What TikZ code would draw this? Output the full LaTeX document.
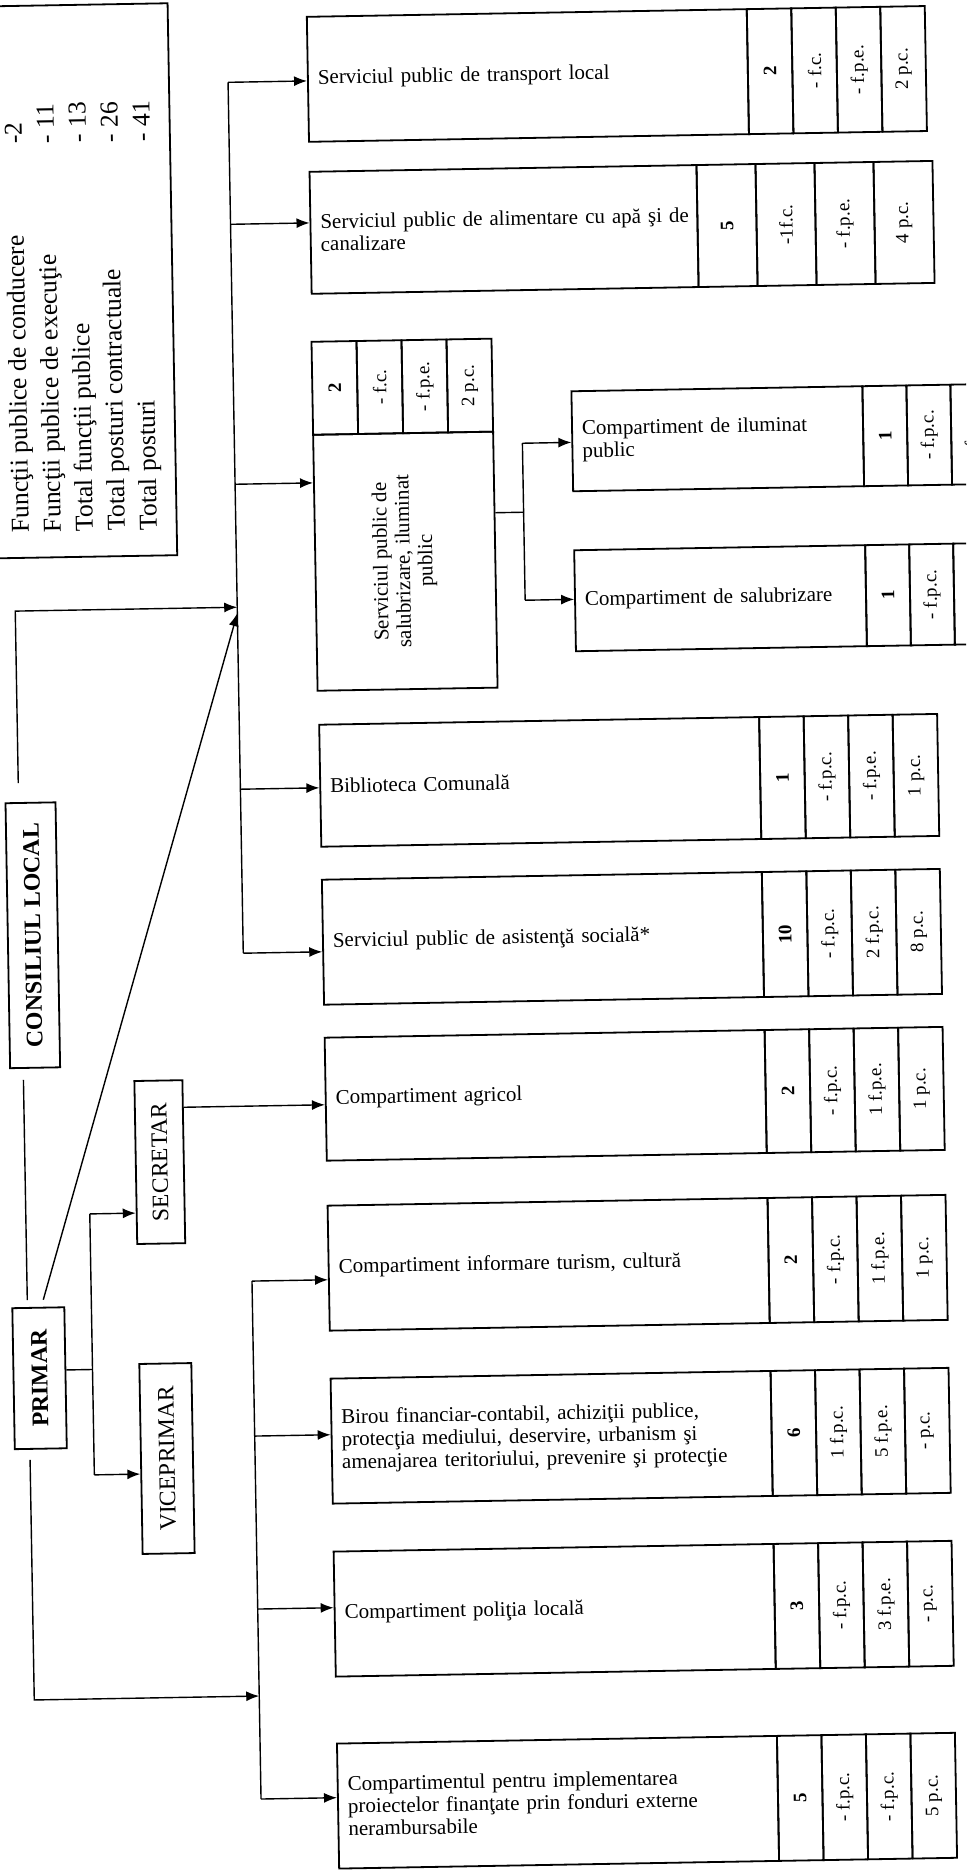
\documentclass[tikz,border=0pt]{standalone}
\usepackage{fontspec}
\setmainfont{Liberation Serif}
\usepackage{graphicx}
\usetikzlibrary{arrows.meta,calc}
\newcommand\bxfont{\fontsize{21}{22.5}\selectfont}
\newcommand\cellfont{\fontsize{19}{21}\selectfont}
\newcommand\legfont{\fontsize{25.7}{30}\selectfont}
\newcommand\hdfont{\fontsize{23.5}{26}\selectfont}
\newcommand\hdbfont{\fontsize{23.8}{26}\selectfont\bfseries}
\newcommand\rt[1]{\rotatebox{90}{#1}}
% name, ytop, height, text, c1..c4
\newcommand\stdrow[8]{%
  \node[mainbox, minimum width=440pt, text width=420pt, minimum height=#3pt] (#1) at (322,#2) {#4};
  \node[cellbox, minimum height=#3pt] (#1c1) at (762,#2) {\rt{\bfseries #5}};
  \node[cellbox, minimum height=#3pt] (#1c2) at (806.5,#2) {\rt{#6}};
  \node[cellbox, minimum height=#3pt] (#1c3) at (851,#2) {\rt{#7}};
  \node[cellbox, minimum height=#3pt] (#1c4) at (895.5,#2) {\rt{#8}};
}
\begin{document}
\begin{tikzpicture}[x=1pt,y=-1pt,
  ln/.style={line width=1.4pt, draw=black},
  arr/.style={ln, -{Latex[length=13pt,width=10pt]}},
  mainbox/.style={draw, line width=1.8pt, anchor=north west, align=left, inner xsep=10pt, inner ysep=0pt, font=\bxfont},
  cellbox/.style={draw, line width=1.8pt, anchor=north west, inner sep=0pt, minimum width=44.5pt, font=\cellfont},
  headbox/.style={draw, line width=1.8pt, anchor=north west, inner sep=0pt},
  legtext/.style={rotate=90, anchor=base west, font=\legfont, inner sep=0pt}
]
\useasboundingbox (0,0) rectangle (966,1873);
\fill[white] (0,0) rectangle (966,1873);
\clip (0,0) rectangle (966,1873);
\begin{scope}[rotate around={1:(483,936)}, transform shape]

% ---------- legend ----------
\node[headbox, minimum width=203pt, minimum height=552pt] (legend) at (-20,-3) {};
\foreach \t/\n [count=\i from 0] in {Funcţii publice de conducere/-2, Funcţii publice de execuţie/- 11, Total funcţii publice/- 13, Total posturi contractuale/- 26, Total posturi/- 41} {
  \node[legtext] (leg\i) at (36+32*\i, 525) {\t};
  \node[legtext] (legn\i) at (36+32*\i, 136) {\n};
}

% ---------- left column ----------
\node[headbox, minimum width=50pt, minimum height=265pt] (consiliu) at (7,794) {\rt{\hdbfont CONSILIUL LOCAL}};
\node[headbox, minimum width=52pt, minimum height=141pt] (primar) at (5,1299) {\rt{\hdbfont PRIMAR}};
\node[headbox, minimum width=48pt, minimum height=163pt] (secretar) at (131,1074) {\rt{\hdfont SECRETAR}};
\node[headbox, minimum width=52pt, minimum height=190pt] (viceprimar) at (131,1357) {\rt{\hdfont VICEPRIMAR}};

% ---------- right column ----------
\stdrow{transport}{13}{125}{Serviciul public de transport local}{2}{- f.c.}{- f.p.e.}{2 p.c.}

\node[mainbox, minimum width=387pt, text width=367pt, minimum height=122pt] (alim) at (322,168) {\mbox{Serviciul public de alimentare cu apă şi de}\\canalizare};
\node[cellbox, minimum width=59pt, minimum height=122pt] (alimc1) at (709,168) {\rt{\bfseries 5}};
\node[cellbox, minimum width=59pt, minimum height=122pt] (alimc2) at (768,168) {\rt{-1f.c.}};
\node[cellbox, minimum width=59pt, minimum height=122pt] (alimc3) at (827,168) {\rt{- f.p.e.}};
\node[cellbox, minimum width=59pt, minimum height=122pt] (alimc4) at (886,168) {\rt{4 p.c.}};

\node[headbox, minimum width=180pt, minimum height=256pt] (salub) at (321,431) {\rt{\bxfont\begin{tabular}{@{}c@{}}Serviciul public de\\ salubrizare, iluminat\\ public\end{tabular}}};
\node[cellbox, minimum width=45pt, minimum height=93pt] (salubc1) at (321,338) {\rt{\bfseries 2}};
\node[cellbox, minimum width=45pt, minimum height=93pt] (salubc2) at (366,338) {\rt{- f.c.}};
\node[cellbox, minimum width=45pt, minimum height=93pt] (salubc3) at (411,338) {\rt{- f.p.e.}};
\node[cellbox, minimum width=45pt, minimum height=93pt] (salubc4) at (456,338) {\rt{2 p.c.}};

\node[mainbox, minimum width=291pt, text width=271pt, minimum height=100pt] (ilum) at (580,392) {Compartiment de iluminat\\public};
\node[cellbox, minimum width=44pt, minimum height=100pt] (ilumc1) at (871,392) {\rt{\bfseries 1}};
\node[cellbox, minimum width=44pt, minimum height=100pt] (ilumc2) at (915,392) {\rt{- f.p.c.}};
\node[cellbox, minimum width=44pt, minimum height=100pt] (ilumc3) at (959,392) {\rt{- f.p.e.}};

\node[mainbox, minimum width=291pt, text width=271pt, minimum height=101pt] (salcomp) at (580,551) {Compartiment de salubrizare};
\node[cellbox, minimum width=44pt, minimum height=101pt] (salcompc1) at (871,551) {\rt{\bfseries 1}};
\node[cellbox, minimum width=44pt, minimum height=101pt] (salcompc2) at (915,551) {\rt{- f.p.c.}};
\node[cellbox, minimum width=44pt, minimum height=101pt] (salcompc3) at (959,551) {\rt{- f.p.e.}};

\stdrow{biblio}{721}{122}{Biblioteca Comunală}{1}{- f.p.c.}{- f.p.e.}{1 p.c.}
\stdrow{asist}{876}{125}{Serviciul public de asistenţă socială*}{10}{- f.p.c.}{2 f.p.c.}{8 p.c.}
\stdrow{agricol}{1034}{123}{Compartiment agricol}{2}{- f.p.c.}{1 f.p.e.}{1 p.c.}
\stdrow{inform}{1202}{125}{Compartiment informare turism, cultură}{2}{- f.p.c.}{1 f.p.e.}{1 p.c.}
\stdrow{birou}{1375}{125}{Birou financiar-contabil, achiziţii publice,\\protecţia mediului, deservire, urbanism şi\\amenajarea teritoriului, prevenire şi protecţie}{6}{1 f.p.c.}{5 f.p.e.}{- p.c.}
\stdrow{politia}{1548}{125}{Compartiment poliţia locală}{3}{- f.p.c.}{3 f.p.e.}{- p.c.}
\stdrow{implem}{1740}{125}{Compartimentul pentru implementarea\\proiectelor finanţate prin fonduri externe\\nerambursabile}{5}{- f.p.c.}{- f.p.c.}{5 p.c.}

% ---------- connectors ----------
% spine 1
\coordinate (a1) at (243,78);
\coordinate (a2) at (243,220);
\coordinate (a3) at (243,480);
\coordinate (a4) at (243,785);
\coordinate (a5) at (243,949);
\coordinate (sp1) at (243,603);
\coordinate (sp2) at (243,609);
\draw[ln] (a1) -- (a5);
\draw[arr] (a1) -- ($(transport.north west)!(a1)!(transport.south west)$);
\draw[arr] (a2) -- ($(alim.north west)!(a2)!(alim.south west)$);
\draw[arr] (a3) -- ($(salub.north west)!(a3)!(salub.south west)$);
\draw[arr] (a4) -- ($(biblio.north west)!(a4)!(biblio.south west)$);
\draw[arr] (a5) -- ($(asist.north west)!(a5)!(asist.south west)$);

% consiliul local -> spine
\coordinate (c0) at ([xshift=14pt,yshift=19pt]consiliu.north west);
\coordinate (c1) at (21,603);
\draw[arr] (c0) -- (c1) -- (sp1);
% consiliul local - primar
\draw[ln] ([xshift=14pt,yshift=-11pt]consiliu.south west) -- ([xshift=16pt,yshift=7pt]primar.north west);
% primar diagonal -> spine
\draw[arr] ([xshift=32pt,yshift=7pt]primar.north west) -- (sp2);

% primar -> secretar / viceprimar
\coordinate (pj) at (85,1362.6);
\coordinate (ps) at (85,1207);
\coordinate (pv) at (85,1468);
\draw[ln] ($(primar.north east)!(pj)!(primar.south east)$) -- (pj);
\draw[ln] (ps) -- (pv);
\draw[arr] (ps) -- ($(secretar.north west)!(ps)!(secretar.south west)$);
\draw[arr] (pv) -- ($(viceprimar.north west)!(pv)!(viceprimar.south west)$);

% secretar -> agricol
\coordinate (sa) at (179,1102);
\draw[arr] ($(secretar.north east)!(sa)!(secretar.south east)$) -- ($(agricol.north west)!(sa)!(agricol.south west)$);

% primar -> spine 2
\coordinate (b1) at (246,1277);
\coordinate (b2) at (246,1432);
\coordinate (b3) at (246,1605);
\coordinate (b4) at (246,1795);
\coordinate (bp) at (246,1692);
\coordinate (pb) at (21,1692);
\draw[arr] ([xshift=16pt,yshift=-10pt]primar.south west) -- (pb) -- (bp);
\draw[ln] (b1) -- (b4);
\draw[arr] (b1) -- ($(inform.north west)!(b1)!(inform.south west)$);
\draw[arr] (b2) -- ($(birou.north west)!(b2)!(birou.south west)$);
\draw[arr] (b3) -- ($(politia.north west)!(b3)!(politia.south west)$);
\draw[arr] (b4) -- ($(implem.north west)!(b4)!(implem.south west)$);

% salubrizare -> compartments
\coordinate (s0) at (501,513);
\coordinate (s1) at (531,513);
\coordinate (s2) at (531,444);
\coordinate (s3) at (531,601);
\draw[ln] ($(salub.north east)!(s0)!(salub.south east)$) -- (s1);
\draw[ln] (s2) -- (s3);
\draw[arr] (s2) -- ($(ilum.north west)!(s2)!(ilum.south west)$);
\draw[arr] (s3) -- ($(salcomp.north west)!(s3)!(salcomp.south west)$);
\end{scope}
\end{tikzpicture}
\end{document}
